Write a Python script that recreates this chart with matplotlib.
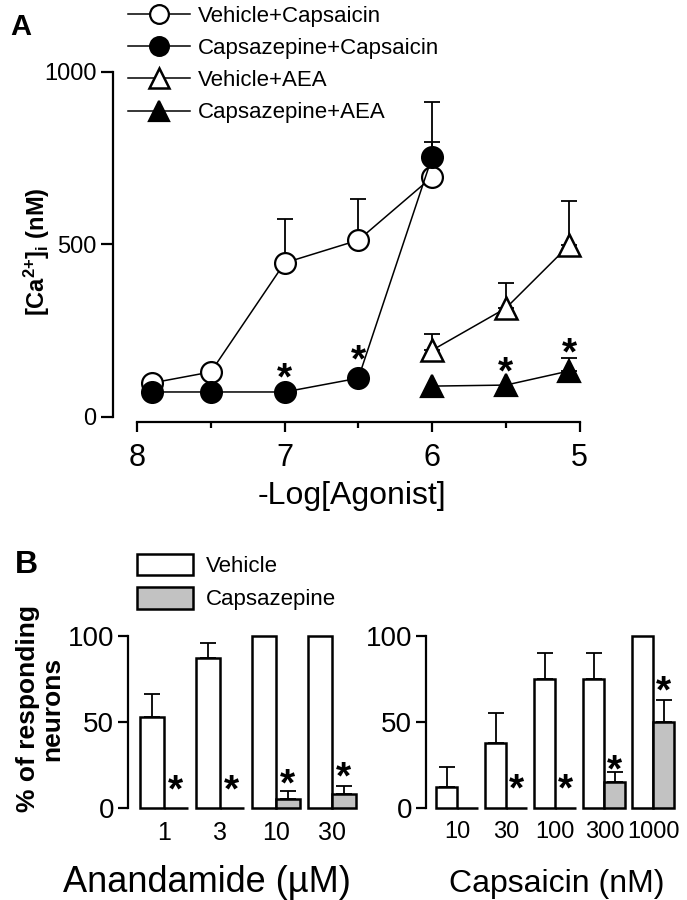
import matplotlib
matplotlib.use('Agg')
import matplotlib.pyplot as plt
import numpy as np
from matplotlib.lines import Line2D
from matplotlib.patches import Patch

plt.rcParams['font.family'] = ['Liberation Sans', 'DejaVu Sans']
plt.rcParams['mathtext.fontset'] = 'custom'
plt.rcParams['mathtext.rm'] = 'Liberation Sans:bold'
plt.rcParams['mathtext.it'] = 'Liberation Sans:bold'
plt.rcParams['mathtext.bf'] = 'Liberation Sans:bold'

# ---- panel A: [Ca2+]i vs -log[agonist]
cap_x = [7.9, 7.5, 7.0, 6.5, 6.0]
veh_cap = [98, 130, 446, 512, 695]
veh_cap_err = [0, 0, 127, 119, 102]
cpz_cap = [72, 72, 72, 112, 753]
cpz_cap_err = [0, 0, 0, 0, 159]

aea_x = [6.0, 5.5, 5.07]
veh_aea = [193, 315, 498]
veh_aea_err = [47, 73, 127]
cpz_aea = [89, 92, 133]
cpz_aea_err = [0, 0, 37]

star_a_x = [7.0, 6.5, 5.5, 5.07]
star_a_y = [141, 193, 159, 214]

# ---- panel B: % of responding neurons
ana_labels = ['1', '3', '10', '30']
ana_veh = [53, 87, 100, 100]
ana_veh_err = [13, 9, 0, 0]
ana_cpz = [0, 0, 5, 8]
ana_cpz_err = [0, 0, 5, 5]
ana_star = [16, 16, 20, 24]

capb_labels = ['10', '30', '100', '300', '1000']
capb_veh = [12, 38, 75, 75, 100]
capb_veh_err = [12, 17, 15, 15, 0]
capb_cpz = [0, 0, 0, 15, 50]
capb_cpz_err = [0, 0, 0, 6, 13]
capb_star = [None, 17, 17, 28, 74]

GRAY = '#c2c2c2'
W, H = 687, 900

fig = plt.figure(figsize=(6.87, 9), dpi=100)


def star(ax, x, y, fs):
    # put the visual centre of the asterisk at (x, y)
    ax.annotate('*', xy=(x, y), xytext=(0, -0.55 * fs), textcoords='offset points',
                ha='center', va='baseline', fontsize=fs, fontweight='bold', annotation_clip=False)


def upper_err(ax, x, y, e):
    xs = [a for a, b in zip(x, e) if b > 0]
    ys = [a for a, b in zip(y, e) if b > 0]
    es = [b for b in e if b > 0]
    if xs:
        ax.errorbar(xs, ys, yerr=[np.zeros(len(es)), es], fmt='none', ecolor='black',
                    elinewidth=1.3, capsize=6, capthick=1.3, zorder=1)


# ================= panel A =================
axA = fig.add_axes([113 / W, 1 - 422 / H, 477 / W, (422 - 68.3) / H])
axA.set_xlim(8.163, 4.93)
axA.set_ylim(-15, 1010)

upper_err(axA, cap_x, veh_cap, veh_cap_err)
upper_err(axA, cap_x, cpz_cap, cpz_cap_err)
upper_err(axA, aea_x, veh_aea, veh_aea_err)
upper_err(axA, aea_x, cpz_aea, cpz_aea_err)

lw = 1.1
l1, = axA.plot(cap_x, veh_cap, '-o', color='black', lw=lw, ms=15, mfc='white', mec='black', mew=1.6, zorder=3)
l2, = axA.plot(cap_x, cpz_cap, '-o', color='black', lw=lw, ms=15, mfc='black', mec='black', mew=1.6, zorder=4)
l3, = axA.plot(aea_x, veh_aea, '-^', color='black', lw=lw, ms=16, mfc='white', mec='black', mew=1.8, zorder=3)
l4, = axA.plot(aea_x, cpz_aea, '-^', color='black', lw=lw, ms=16, mfc='black', mec='black', mew=1.6, zorder=4)

for x, y in zip(star_a_x, star_a_y):
    star(axA, x, y, 28)

for s in ['top', 'right']:
    axA.spines[s].set_visible(False)
axA.spines['left'].set_bounds(0, 1000)
axA.spines['bottom'].set_bounds(8, 5)
axA.spines['left'].set_linewidth(1.6)
axA.spines['bottom'].set_linewidth(1.6)
axA.set_yticks([0, 500, 1000])
axA.set_xticks([8, 7, 6, 5])
axA.set_xticks([7.5, 6.5, 5.5], minor=True)
axA.tick_params(axis='y', length=9, width=1.6, pad=3, labelsize=17)
axA.tick_params(axis='x', which='major', length=7, width=1.6, pad=8, labelsize=22)
axA.tick_params(axis='x', which='minor', length=4, width=1.6)
axA.set_xlabel('-Log[Agonist]', fontsize=23, labelpad=6)

fig.legend([l1, l2, l3, l4],
           ['Vehicle+Capsaicin', 'Capsazepine+Capsaicin', 'Vehicle+AEA', 'Capsazepine+AEA'],
           loc='upper left', bbox_to_anchor=(128 / W, 1 - 6 / H), frameon=False, fontsize=16,
           handlelength=2.8, handletextpad=0.35, labelspacing=0.5, borderpad=0, borderaxespad=0,
           numpoints=1, markerscale=0.9)

fig.text(37 / W, 1 - 252 / H, r'[Ca$^{2{+}}$]$_{i}$ (nM)', rotation=90, fontsize=17,
         fontweight='bold', ha='center', va='center')
fig.text(10 / W, 1 - 27 / H, 'A', fontsize=21, fontweight='bold', ha='left', va='center')

# ================= panel B =================
bw = 0.43
ypx = 1.72  # px per % unit


def bar_panel(ax, labels, veh, veh_err, cpz, cpz_err, stars, tick_fs):
    pos = np.arange(len(labels))
    ax.bar(pos - bw, veh, width=bw, align='edge', color='white', edgecolor='black',
           linewidth=1.8, clip_on=False, zorder=2)
    ax.bar(pos, cpz, width=bw, align='edge', color=GRAY, edgecolor='black',
           linewidth=1.8, clip_on=False, zorder=2)
    upper_err(ax, list(pos - bw / 2), veh, veh_err)
    upper_err(ax, list(pos + bw / 2), cpz, cpz_err)
    for p, s in zip(pos, stars):
        if s is not None:
            star(ax, p + bw / 2, s, 28)
    ax.set_ylim(0, 105)
    ax.set_xlim(-0.64, len(labels) - 0.5)
    for s in ['top', 'right', 'bottom']:
        ax.spines[s].set_visible(False)
    ax.spines['left'].set_bounds(0, 100)
    ax.spines['left'].set_linewidth(1.6)
    ax.set_yticks([0, 50, 100])
    ax.tick_params(axis='y', length=7, width=1.6, pad=3, labelsize=20)
    ax.set_xticks(pos)
    ax.set_xticklabels(labels)
    ax.tick_params(axis='x', length=0, pad=9, labelsize=tick_fs)


axL = fig.add_axes([128 / W, 1 - 808 / H, 4.14 * 56 / W, 105 * ypx / H])
bar_panel(axL, ana_labels, ana_veh, ana_veh_err, ana_cpz, ana_cpz_err, ana_star, 18)
axR = fig.add_axes([426 / W, 1 - 808 / H, 5.14 * 49 / W, 105 * ypx / H])
bar_panel(axR, capb_labels, capb_veh, capb_veh_err, capb_cpz, capb_cpz_err, capb_star, 17)

axL.legend(handles=[Patch(facecolor='white', edgecolor='black', linewidth=1.8),
                    Patch(facecolor=GRAY, edgecolor='black', linewidth=1.8)],
           labels=['Vehicle', 'Capsazepine'], loc='upper left',
           bbox_to_anchor=(137 / W, 1 - 554 / H), bbox_transform=fig.transFigure,
           frameon=False, fontsize=16, handlelength=2.5, handleheight=1.1,
           handletextpad=0.6, labelspacing=0.45, borderpad=0, borderaxespad=0)

fig.text(40 / W, 1 - 709 / H, '% of responding\nneurons', rotation=90, fontsize=19,
         fontweight='bold', ha='center', va='center', multialignment='center', linespacing=1.05)
fig.text(15 / W, 1 - 565 / H, 'B', fontsize=23, fontweight='bold', ha='left', va='center')
fig.text(207 / W, 1 - 892 / H, 'Anandamide (µM)', fontsize=26, ha='center', va='baseline')
fig.text(557 / W, 1 - 892 / H, 'Capsaicin (nM)', fontsize=23, ha='center', va='baseline')

fig.savefig('out.png', dpi=100)
